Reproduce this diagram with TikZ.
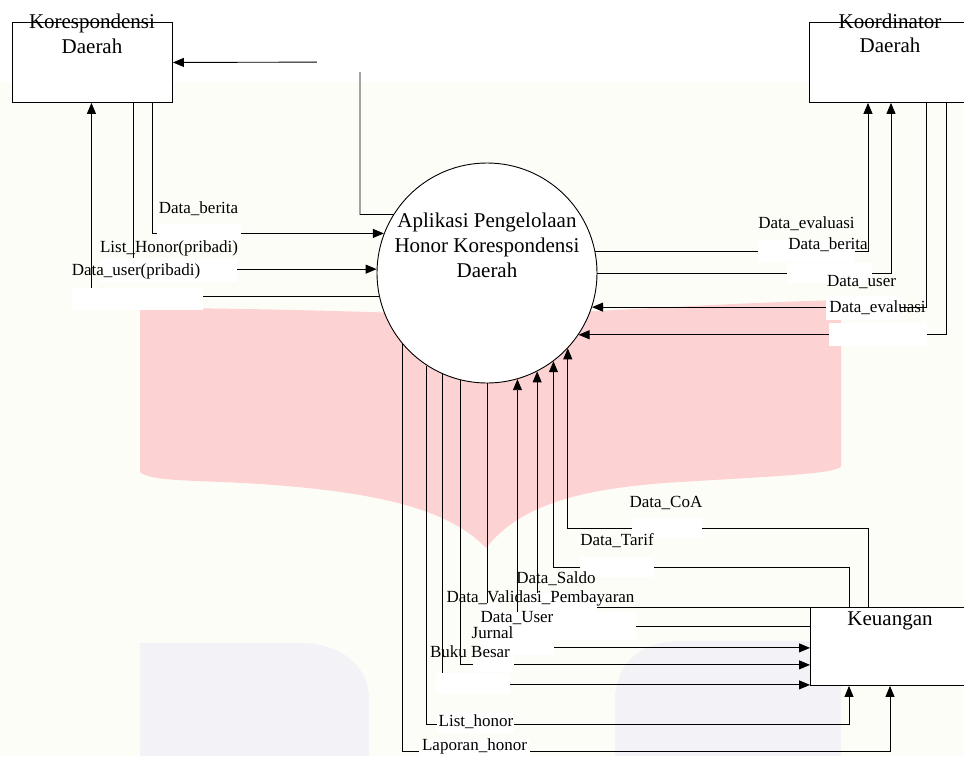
\documentclass[tikz,border=0pt]{standalone}
\usepackage{fontspec}
\setmainfont{Liberation Serif}
\usetikzlibrary{arrows.meta}
\definecolor{bgcream}{RGB}{253,253,248}
\definecolor{wmpink}{RGB}{253,210,211}
\definecolor{wmgray}{RGB}{243,243,247}
\begin{document}
\begin{tikzpicture}[x=1pt,y=-1pt,
  every node/.style={inner sep=0pt},
  ent/.style={draw, fill=white, line width=0.9pt, minimum width=160pt, minimum height=80pt, anchor=north west},
  proc/.style={draw, fill=white, circle, line width=0.9pt, minimum size=220pt},
  flow/.style={line width=0.9pt},
  arr/.style={flow, -{Triangle[length=11pt,width=9pt]}},
  ttl/.style={font=\fontsize{21}{25}\selectfont, anchor=base},
  lbl/.style={font=\fontsize{17}{20}\selectfont, anchor=base},
  maskbox/.style={fill=white}
]
\useasboundingbox (0,0) rectangle (964,756);
% faint background watermark
\fill[white] (0,0) rectangle (964,756);
\fill[bgcream] (0,82) rectangle (964,756);
\fill[wmpink] (140,308) .. controls (250,308) and (380,312) .. (487,316)
  .. controls (600,312) and (700,304) .. (841,300) -- (841,467)
  .. controls (830,474) and (780,476) .. (680,482)
  .. controls (580,488) and (520,505) .. (486,548)
  .. controls (450,510) and (380,492) .. (260,484)
  .. controls (200,480) and (150,482) .. (140,472) -- cycle;
\fill[wmgray] (140,756) -- (140,643) -- (300,643) .. controls (340,643) and (369,665) .. (369,700) -- (369,756) -- cycle;
\fill[wmgray] (841,756) -- (841,641) -- (680,641) .. controls (640,641) and (615,665) .. (615,700) -- (615,756) -- cycle;

% entities and process
\node[ent] (kor) at (12,22) {};
\node[ent, minimum width=161pt] (koo) at (809,22) {};
\node[ent, minimum height=78pt] (keu) at (810,607) {};
\node[proc] (circ) at (487,273) {};

% connectors: Korespondensi Daerah
\draw[arr] (circ.148.8) -| (360,62) -- (kor.east);
\draw[arr] ([xshift=-20pt]kor.south east) |- (circ.159.2);
\draw[arr] ([xshift=-39pt]kor.south east) |- (circ.178.4);
\draw[arr] (circ.192.6) -| ([xshift=-1pt]kor.south);

% connectors: Koordinator Daerah
\draw[arr] (circ.11) -| ([xshift=59pt]koo.south west);
\draw[arr] (circ.0.5) -| ([xshift=82pt]koo.south west);
\draw[arr] ([xshift=117pt]koo.south west) |- (circ.-18.55);
\draw[arr] ([xshift=137pt]koo.south west) |- (circ.-34.3);

% connectors: Keuangan
\draw[arr] (circ.-140.6) |- (890,751) -- ([xshift=80pt]keu.south west);
\draw[arr] (circ.-123.7) |- (849,724) -- ([xshift=39pt]keu.south west);
\draw[arr] (circ.-114.7) |- ([yshift=1pt]keu.south west);
\draw[arr] (circ.-104.2) |- ([yshift=21pt]keu.south west);
\draw[arr] (circ.-90.5) |- ([yshift=38pt]keu.south west);
\draw[arr] ([yshift=-19pt]keu.north west) -| (circ.-74.7);
\draw[arr] (keu.north west) -| (circ.-63.5);
\draw[arr] ([xshift=39pt]keu.north west) -- ++(0,-40) -| (circ.-53.1);
\draw[arr] ([xshift=58pt]keu.north west) -- ++(0,-79) -| (circ.-43.3);

% white label backgrounds
\fill[maskbox] (317,50) rectangle (370,72);
\fill[maskbox] (157,224) rectangle (241,242);
\fill[maskbox] (100,258) rectangle (237,282);
\fill[maskbox] (72,288) rectangle (203,310);
\fill[maskbox] (758,240) rectangle (855,262);
\fill[maskbox] (787,263) rectangle (872,283);
\fill[maskbox] (826,296) rectangle (900,320);
\fill[maskbox] (829,323) rectangle (927,346);
\fill[maskbox] (632,518) rectangle (702,538);
\fill[maskbox] (580,557) rectangle (654,577);
\fill[maskbox] (525,593) rectangle (597,614);
\fill[maskbox] (480,612) rectangle (636,640);
\fill[maskbox] (480,603) rectangle (500,612);
\fill[maskbox] (480,640) rectangle (554,655);
\fill[maskbox] (436,673) rectangle (510,694);
\fill[maskbox] (473,656) rectangle (514,672);
\fill[maskbox] (437,713) rectangle (514,733);
\fill[maskbox] (419,740) rectangle (530,756);

% titles
\node[ttl] (kort1) at (92,28) {Korespondensi};
\node[ttl] (kort2) at (92,53) {Daerah};
\node[ttl] (koot1) at (890,28) {Koordinator};
\node[ttl] (koot2) at (890,52) {Daerah};
\node[ttl] (ct1) at (487,227) {Aplikasi Pengelolaan};
\node[ttl] (ct2) at (487,252) {Honor Korespondensi};
\node[ttl] (ct3) at (487,277) {Daerah};
\node[ttl] (keut) at (890,625) {Keuangan};

% flow labels
\node[lbl] (la) at (198.5,213) {Data\_berita};
\node[lbl] (lb) at (169,252) {List\_Honor(pribadi)};
\node[lbl] (lc) at (136,275) {Data\_user(pribadi)};
\node[lbl] (ld) at (806.5,228) {Data\_evaluasi};
\node[lbl] (le) at (828,249) {Data\_berita};
\node[lbl] (lf) at (861.5,286) {Data\_user};
\node[lbl] (lg) at (877.5,312) {Data\_evaluasi};
\node[lbl] (lh) at (666,507) {Data\_CoA};
\node[lbl] (li) at (617,545) {Data\_Tarif};
\node[lbl] (lj) at (556,583) {Data\_Saldo};
\node[lbl] (lk) at (540.5,602) {Data\_Validasi\_Pembayaran};
\node[lbl] (ll) at (517,622) {Data\_User};
\node[lbl] (lm) at (492.5,638) {Jurnal};
\node[lbl] (ln) at (470,657) {Buku Besar};
\node[lbl] (lo) at (476,726) {List\_honor};
\node[lbl] (lp) at (474.5,750) {Laporan\_honor};
\end{tikzpicture}
\end{document}
